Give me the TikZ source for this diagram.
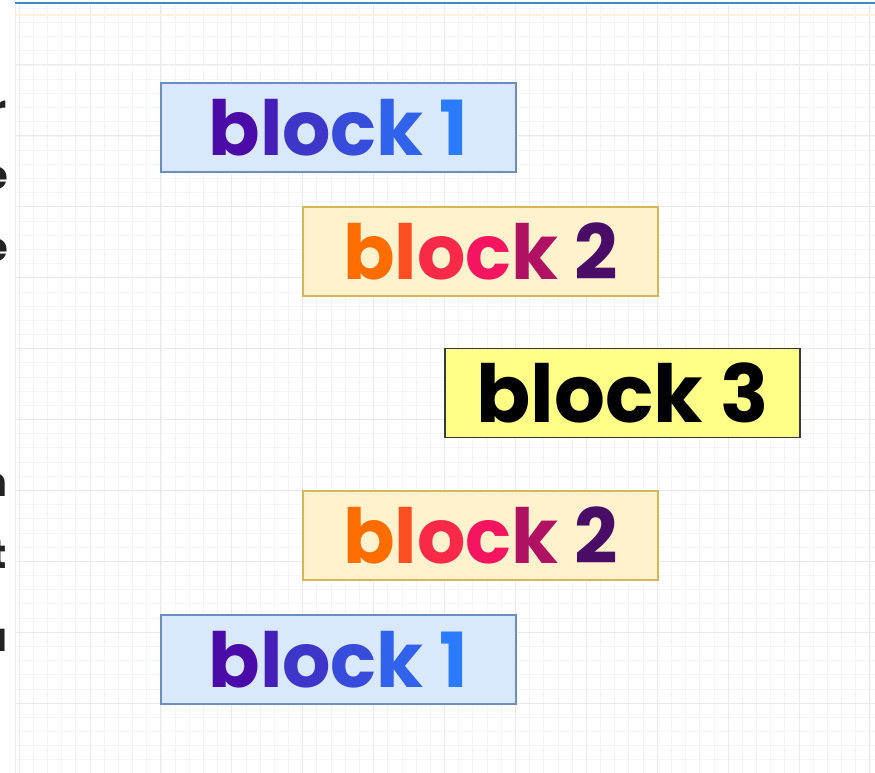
\documentclass[tikz,border=0pt]{standalone}
\usepackage{fontspec}
\newfontfamily\blockfont{Poppins}
\newfontfamily\sidefont{Poppins}

\definecolor{gridminor}{HTML}{F5F5F5}
\definecolor{gridmajor}{HTML}{EAEAEA}
\definecolor{topline}{HTML}{3D8BC9}
\definecolor{topband}{HTML}{FCF1DE}
\definecolor{bluefill}{HTML}{DAE8FC}
\definecolor{blueline}{HTML}{6C8EBF}
\definecolor{creamfill}{HTML}{FFF2CC}
\definecolor{creamline}{HTML}{D6B656}
\definecolor{notefill}{HTML}{FFFF88}
\definecolor{noteline}{HTML}{36393D}
% text colours, letter by letter
\definecolor{purpA}{HTML}{4A0BA8}
\definecolor{blueB}{HTML}{2A7BFF}
\definecolor{orangeA}{HTML}{FF6D00}
\definecolor{pinkB}{HTML}{F5145F}
\definecolor{purpC}{HTML}{4A0D67}
\definecolor{sidetext}{HTML}{222222}

\newcommand{\blueword}[1]{{\color{blueB!0!purpA}b\color{blueB!18!purpA}l\color{blueB!38!purpA}o\color{blueB!58!purpA}c\color{blueB!78!purpA}k
 \color{blueB}#1}}
\newcommand{\warmword}[1]{{\color{orangeA}b\color{pinkB!35!orangeA}l\color{pinkB!75!orangeA}o\color{pinkB}c\color{purpC!40!pinkB}k
 \color{purpC}#1}}

\begin{document}
\begin{tikzpicture}[x=1pt,y=-1pt,
box/.style={draw,line width=1.3pt,minimum width=355pt,minimum height=89pt,inner sep=0pt,
  font=\blockfont\bfseries\fontsize{76}{88}\selectfont},
blockA/.style={box,fill=bluefill,draw=blueline},
blockB/.style={box,fill=creamfill,draw=creamline},
blockC/.style={box,fill=notefill,draw=noteline,text=black,
  font=\blockfont\bfseries\fontsize{80}{90}\selectfont},
cut/.style={anchor=east,text=sidetext,inner sep=0pt,font=\sidefont\bfseries\fontsize{40}{44}\selectfont}]
\useasboundingbox[fill=white] (0,0) rectangle (875,773);
% grid
\foreach \i in {0,...,60} \draw[gridminor,line width=0.8pt] ({19.1+14.18*\i},5) -- ({19.1+14.18*\i},773);
\foreach \j in {0,...,54} \draw[gridminor,line width=0.8pt] (15,{8.3+14.18*\j}) -- (875,{8.3+14.18*\j});
\foreach \i in {0,...,12} \draw[gridmajor,line width=1pt] ({19.1+70.9*\i},5) -- ({19.1+70.9*\i},773);
\foreach \j in {0,...,10} \draw[gridmajor,line width=1pt] (15,{65+70.9*\j}) -- (875,{65+70.9*\j});
\draw[gridmajor,line width=1pt] (15,5) -- (15,773);
\draw[topband,line width=2pt] (15,15) -- (875,15);
\draw[topline,line width=1.5pt] (15,3) -- (875,3);
% clipped words at the left edge
\node[cut] (sa) at (7,112) {r};
\node[cut] (sb) at (8,178) {e};
\node[cut] (sc) at (8,250) {e};
\node[cut] (sd) at (8,485) {n};
\node[cut] (se) at (7,555) {t};
\node[cut] (sf) at (8,640) {u};
% blocks
\node[blockA] (b1) at (338.5,127.5) {\blueword{1}};
\node[blockB] (b2) at (480.5,251.5) {\warmword{2}};
\node[blockC] (b3) at (622.5,393) {block 3};
\node[blockB] (b2r) at (480.5,535.5) {\warmword{2}};
\node[blockA] (b1r) at (338.5,659.5) {\blueword{1}};
\end{tikzpicture}
\end{document}
